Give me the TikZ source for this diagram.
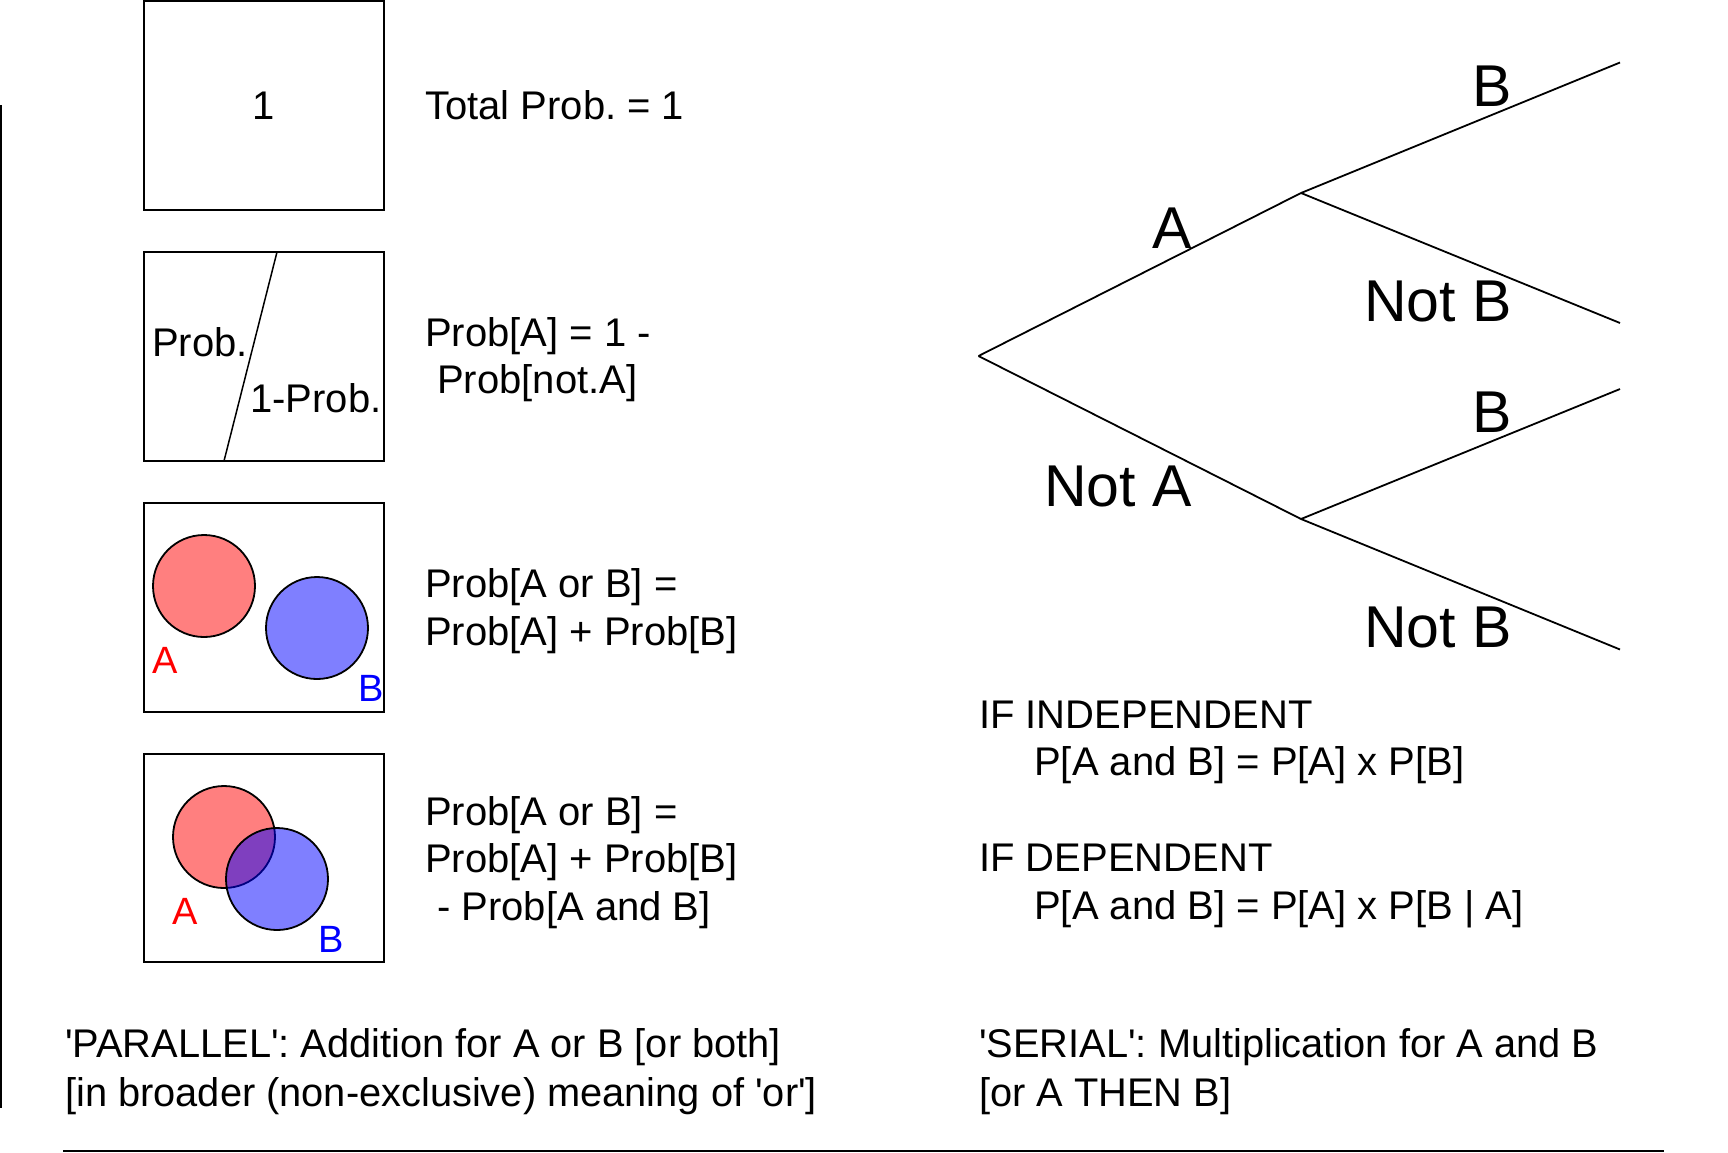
\documentclass[tikz,border=0pt]{standalone}
\usepackage{fontspec}
\setmainfont{Liberation Sans}
\usepackage{graphicx}
\frenchspacing
\begin{document}
\begin{tikzpicture}[x=1pt,y=-1pt,
  txt/.style={font=\fontsize{40}{48}\selectfont, anchor=base west, inner sep=0pt},
  lbl/.style={font=\fontsize{38}{44}\selectfont, anchor=base west, inner sep=0pt},
  big/.style={font=\fontsize{59}{70}\selectfont, anchor=base east, inner sep=0pt},
  frame/.style={draw=black, line width=2pt},
  branch/.style={draw=black, line width=1.8pt},
  redc/.style={draw=black, line width=1.8pt, fill={rgb,255:red,255;green,0;blue,0}, fill opacity=0.5},
  bluec/.style={draw=black, line width=1.8pt, fill={rgb,255:red,0;green,0;blue,255}, fill opacity=0.5},
  rule/.style={draw=black, line width=2pt}]
\useasboundingbox (0,0) rectangle (1728,1152);
\fill[white] (0,0) rectangle (1728,1152);

% left rule
\coordinate (vt) at (1,105);
\coordinate (vb) at (1,1108);
\draw[rule] (vt) -- (vb);

% box 1
\draw[frame] (144,1) rectangle (384,210);
\node[txt, anchor=base] (one) at (264,119) {1};
\node[txt] (total) at (425,119) {Total Prob. = 1};

% box 2
\draw[frame] (144,252) rectangle (384,461);
\coordinate (d1) at (277,252);
\coordinate (d2) at (224,461);
\draw[black, line width=1.5pt] (d1) -- (d2);
\node[txt] (prob) at (152,356) {Prob.};
\node[txt] (oneprob) at (250,412) {1-Prob.};
\node[txt] (pa1) at (425,346) {Prob[A] = 1 -};
\node[txt] (pa2) at (437,393) {Prob[not.A]};

% box 3
\draw[frame] (144,503) rectangle (384,712);
\draw[redc] (204,586) circle (51);
\draw[bluec] (317,628) circle (51);
\node[lbl, text=red] (a3) at (152,673) {A};
\node[lbl, text=blue] (b3) at (358,701) {B};
\node[txt] (po1) at (425,597) {Prob[A or B] =};
\node[txt] (po2) at (425,645) {Prob[A] + Prob[B]};

% box 4
\draw[frame] (144,754) rectangle (384,962);
\draw[redc] (224,837) circle (51);
\draw[bluec] (277,879) circle (51);
\node[lbl, text=red] (a4) at (172,924) {A};
\node[lbl, text=blue] (b4) at (318,952) {B};
\node[txt] (pb1) at (425,825) {Prob[A or B] =};
\node[txt] (pb2) at (425,872) {Prob[A] + Prob[B]};
\node[txt] (pb3) at (437,920) {- Prob[A and B]};

% tree
\coordinate (root) at (978.5,356);
\coordinate (nA) at (1301,193);
\coordinate (nN) at (1301,519);
\coordinate (e1) at (1620,62.5);
\coordinate (e2) at (1620,323);
\coordinate (e3) at (1620,389);
\coordinate (e4) at (1620,649.5);
\draw[branch] (root) -- (nA);
\draw[branch] (root) -- (nN);
\draw[branch] (nA) -- (e1);
\draw[branch] (nA) -- (e2);
\draw[branch] (nN) -- (e3);
\draw[branch] (nN) -- (e4);
\node[big] (lA) at (1192,248) {A};
\node[big] (lB1) at (1512,106) {B};
\node[big] (lNB1) at (1512,321) {Not B};
\node[big] (lNA) at (1192,506) {Not A};
\node[big] (lB2) at (1512,432) {B};
\node[big] (lNB2) at (1512,647) {Not B};

% right texts
\node[txt] (ind1) at (979,728) {IF INDEPENDENT};
\node[txt] (ind2) at (1034,775.5) {P[A and B] = P[A] x P[B]};
\node[txt] (dep1) at (979,871.5) {IF DEPENDENT};
\node[txt] (dep2) at (1034,919.5) {P[A and B] = P[A] x P[B | A]};

% bottom texts
\node[txt] (par1) at (65,1057.5) {\scalebox{0.995}[1]{\textquotesingle PARALLEL\textquotesingle: Addition for A or B [or both]}};
\node[txt] (par2) at (65,1106) {\scalebox{0.995}[1]{[in broader (non-exclusive) meaning of \textquotesingle or\textquotesingle]}};
\node[txt] (ser1) at (979,1057.5) {\scalebox{0.995}[1]{\textquotesingle SERIAL\textquotesingle: Multiplication for A and B}};
\node[txt] (ser2) at (979,1106) {\scalebox{0.995}[1]{[or A THEN B]}};

% bottom rule
\coordinate (hl) at (63,1150.5);
\coordinate (hr) at (1664,1150.5);
\draw[rule] (hl) -- (hr);
\end{tikzpicture}
\end{document}
